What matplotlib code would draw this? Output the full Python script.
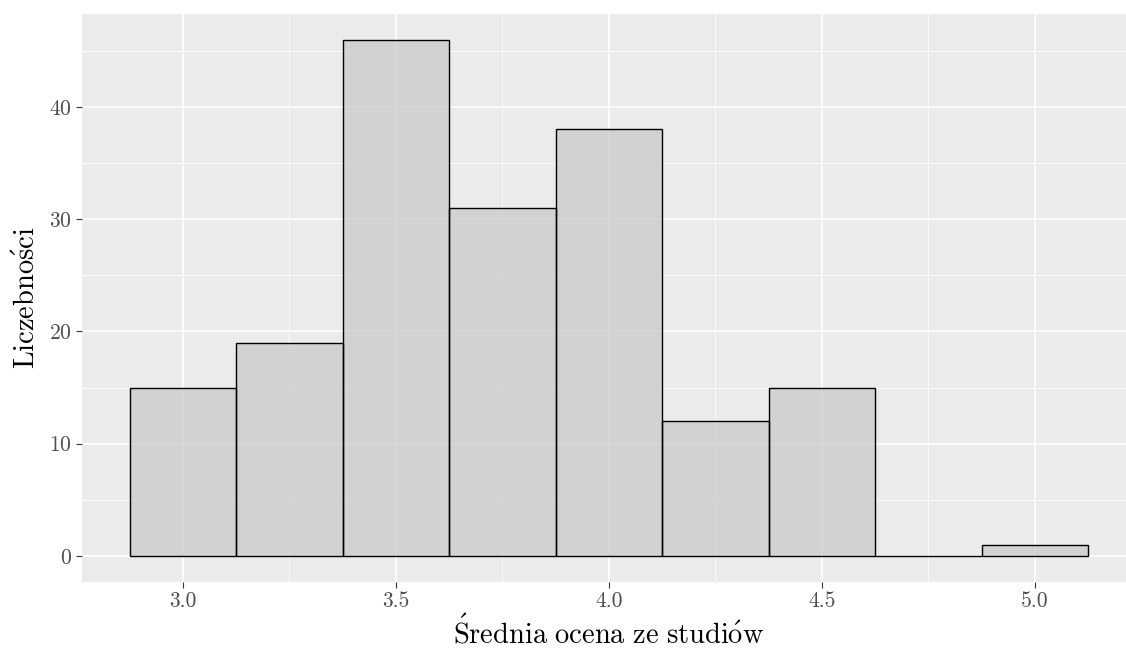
import numpy as np
import matplotlib
matplotlib.use("Agg")
import matplotlib.pyplot as plt
from matplotlib.ticker import FixedLocator

# Data
bin_centers = [3.0, 3.25, 3.5, 3.75, 4.0, 4.25, 4.5, 4.75, 5.0]
counts = [15, 19, 46, 31, 38, 12, 15, 0, 1]
bin_width = 0.25
x_ticks = [3.0, 3.5, 4.0, 4.5, 5.0]
x_tick_labels = ["3.0", "3.5", "4.0", "4.5", "5.0"]
y_ticks = [0, 10, 20, 30, 40]
x_label = r"$\mathrm{\acute{S}rednia\ ocena\ ze\ studi\acute{o}w}$"
y_label = r"$\mathrm{Liczebno\acute{s}ci}$"

plt.rcParams["font.family"] = ["cmr10", "DejaVu Serif"]
plt.rcParams["mathtext.fontset"] = "cm"
plt.rcParams["axes.formatter.use_mathtext"] = True

W, H = 1126, 648
fig = plt.figure(figsize=(W / 100, H / 100), dpi=100)

# panel in pixel coords (right edge extends beyond figure, as in reference)
left_px, right_px, top_px, bottom_px = 81.8, 1136.0, 13.8, 581.8
ax = fig.add_axes([left_px / W, 1 - bottom_px / H,
                   (right_px - left_px) / W, (bottom_px - top_px) / H])
ax.set_facecolor("#EBEBEB")

xmin = bin_centers[0] - bin_width / 2
xmax = bin_centers[-1] + bin_width / 2
xr = xmax - xmin
ymax = max(counts)
ax.set_xlim(xmin - 0.05 * xr, xmax + 0.05 * xr)
ax.set_ylim(-0.05 * ymax, ymax * 1.05)

ax.xaxis.set_major_locator(FixedLocator(x_ticks))
ax.xaxis.set_minor_locator(FixedLocator([3.25, 3.75, 4.25, 4.75]))
ax.yaxis.set_major_locator(FixedLocator(y_ticks))
ax.yaxis.set_minor_locator(FixedLocator([5, 15, 25, 35, 45]))
ax.set_xticklabels(x_tick_labels)

ax.grid(which="major", color="white", linewidth=1.1, zorder=0)
ax.grid(which="minor", color="white", linewidth=0.55, zorder=0)
ax.set_axisbelow(True)

ax.bar(bin_centers, counts, width=bin_width, color="#C8C8C8", alpha=0.7,
       edgecolor="none", zorder=2)
ax.bar(bin_centers, counts, width=bin_width, facecolor="none",
       edgecolor="black", linewidth=1.0, zorder=3)

for s in ax.spines.values():
    s.set_visible(False)

ax.tick_params(which="major", length=4, width=0.8, color="#333333",
               labelcolor="#4D4D4D", labelsize=15.5, pad=3)
ax.tick_params(which="minor", length=0)

ax.set_xlabel(x_label, fontsize=20.5, labelpad=3)
ax.set_ylabel(y_label, fontsize=20.5, labelpad=6)

fig.savefig("out.png", dpi=100)
